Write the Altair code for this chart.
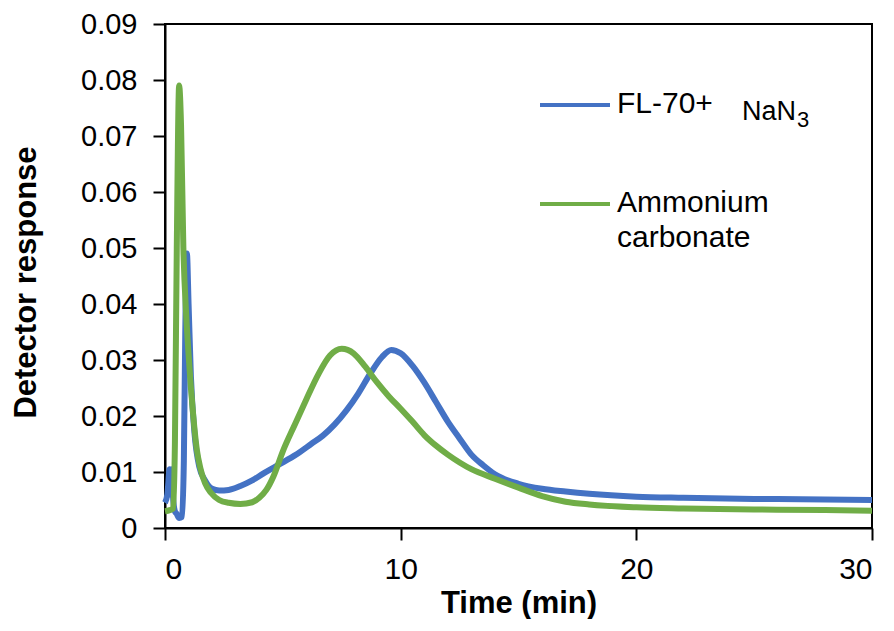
import altair as alt
import pandas as pd

# ---- data ----
series_names = ["FL-70+ NaN3", "Ammonium carbonate"]
series_colors = ["#4472C4", "#70AD47"]

blue_time = [0, 0.1, 0.2, 0.25, 0.3, 0.35, 0.42, 0.5, 0.6, 0.72, 0.8, 0.86, 0.93, 1.0,
             1.1, 1.25, 1.45, 1.7, 2.0, 2.3, 2.7, 3.2, 3.7, 4.2, 4.7, 5.2, 5.7, 6.2,
             6.7, 7.2, 7.7, 8.2, 8.7, 9.2, 9.6, 10.0, 10.5, 11.0, 11.5, 12.0, 12.5,
             13.0, 13.5, 14.0, 15.0, 16.0, 17.0, 18.0, 20.0, 22.0, 25.0, 28.0, 30.0]
blue_resp = [0.0045, 0.006, 0.0105, 0.006, 0.0105, 0.005, 0.003, 0.0025, 0.0018, 0.002,
             0.012, 0.035, 0.049, 0.040, 0.027, 0.017, 0.011, 0.0085, 0.007, 0.0067,
             0.0068, 0.0075, 0.0085, 0.0098, 0.011, 0.0122, 0.0135, 0.015, 0.0165,
             0.0185, 0.021, 0.024, 0.0275, 0.0305, 0.0318, 0.0312, 0.029, 0.026,
             0.0225, 0.019, 0.016, 0.0131, 0.0112, 0.0096, 0.0079, 0.007, 0.0065,
             0.0061, 0.0056, 0.0054, 0.0052, 0.0051, 0.005]

green_time = [0, 0.2, 0.35, 0.42, 0.5, 0.6, 0.68, 0.78, 0.9, 1.0, 1.1, 1.2, 1.35, 1.5,
              1.7, 1.95, 2.3, 2.7, 3.2, 3.7, 4.0, 4.3, 4.6, 5.0, 5.5, 6.0, 6.5, 7.0,
              7.5, 8.0, 8.5, 9.0, 9.5, 10.0, 10.5, 11.0, 11.5, 12.0, 13.0, 14.0, 15.0,
              16.0, 17.0, 18.0, 20.0, 22.0, 25.0, 28.0, 30.0]
green_resp = [0.003, 0.0032, 0.0035, 0.015, 0.05, 0.079, 0.072, 0.05, 0.038, 0.031,
              0.025, 0.02, 0.014, 0.0107, 0.008, 0.0063, 0.005, 0.0045, 0.0043, 0.0046,
              0.0054, 0.0068, 0.0092, 0.0137, 0.0184, 0.023, 0.0274, 0.0308, 0.032,
              0.0312, 0.0288, 0.026, 0.0235, 0.0213, 0.019, 0.0166, 0.0147, 0.0131,
              0.0105, 0.0088, 0.0072, 0.0057, 0.0047, 0.0042, 0.0037, 0.0035, 0.0033,
              0.0032, 0.0031]

x_ticks = [0, 10, 20, 30]
y_ticks = [0, 0.01, 0.02, 0.03, 0.04, 0.05, 0.06, 0.07, 0.08, 0.09]

FONT = "Liberation Sans, Arial, sans-serif"

blue_df = pd.DataFrame({"time": blue_time, "resp": blue_resp, "series": series_names[0]})
green_df = pd.DataFrame({"time": green_time, "resp": green_resp, "series": series_names[1]})

x_enc = alt.X("time:Q", scale=alt.Scale(domain=[0, 30], nice=False, zero=False),
              axis=alt.Axis(values=x_ticks, format="d", title="Time (min)",
                            labelFontSize=30, labelBaseline="alphabetic", labelPadding=38,
                            tickSize=12, titleFontSize=31, titleFontWeight="bold",
                            titleY=84, titleBaseline="alphabetic"))
y_enc = alt.Y("resp:Q", scale=alt.Scale(domain=[0, 0.09], nice=False),
              axis=alt.Axis(values=y_ticks, title="Detector response",
                            labelExpr="datum.value == 0 ? '0' : format(datum.value, '.2f')",
                            labelFontSize=29, labelPadding=16, tickSize=12,
                            titleFontSize=31, titleFontWeight="bold",
                            titleAngle=270, titleX=-139, titleY=258,
                            titleAlign="center", titleBaseline="middle"))

blue_line = alt.Chart(blue_df).mark_line(
    color=series_colors[0], strokeWidth=6, interpolate="monotone"
).encode(x=x_enc, y=y_enc)

green_line = alt.Chart(green_df).mark_line(
    color=series_colors[1], strokeWidth=6, interpolate="monotone"
).encode(x="time:Q", y="resp:Q")

one = pd.DataFrame({"k": [0]})

leg_blue_line = alt.Chart(one).mark_rule(color=series_colors[0], strokeWidth=4).encode(
    x=alt.value(375), x2=alt.value(445), y=alt.value(81))
leg_green_line = alt.Chart(one).mark_rule(color=series_colors[1], strokeWidth=4).encode(
    x=alt.value(375), x2=alt.value(445), y=alt.value(180))

leg_blue_text = alt.Chart(one).mark_text(
    text="FL-70+", font=FONT, fontSize=30, align="left", baseline="alphabetic", color="black"
).encode(x=alt.value(452), y=alt.value(89))
leg_nan_text = alt.Chart(one).mark_text(
    text="NaN", font=FONT, fontSize=27, align="left", baseline="alphabetic", color="black"
).encode(x=alt.value(577), y=alt.value(96))
leg_sub_text = alt.Chart(one).mark_text(
    text="3", font=FONT, fontSize=22, align="left", baseline="alphabetic", color="black"
).encode(x=alt.value(632), y=alt.value(103))
leg_green_text = alt.Chart(one).mark_text(
    text="Ammonium\ncarbonate", lineBreak="\n", lineHeight=35, font=FONT, fontSize=30,
    align="left", baseline="alphabetic", color="black"
).encode(x=alt.value(452), y=alt.value(188))

chart = alt.layer(
    blue_line, green_line,
    leg_blue_line, leg_green_line, leg_blue_text, leg_nan_text, leg_sub_text, leg_green_text
).properties(
    width=707, height=504,
    autosize=alt.AutoSizeParams(type="none"),
    padding={"left": 157, "top": 16, "right": 14, "bottom": 91},
    background="white",
).configure_view(
    stroke="black", strokeWidth=2
).configure_axis(
    grid=False, domainColor="black", domainWidth=2, tickColor="black", tickWidth=2,
    labelColor="black", titleColor="black", labelFont=FONT, titleFont=FONT,
)

chart.save("out.html", embed_options={"renderer": "svg", "actions": False})
